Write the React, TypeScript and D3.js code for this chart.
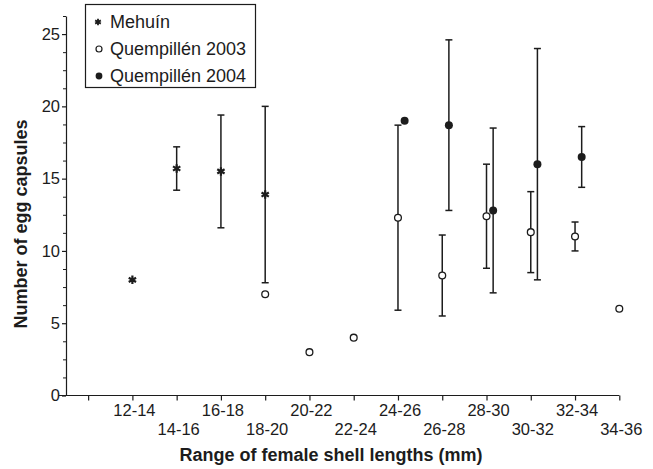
import React from 'react';
import * as d3 from 'd3';

// shell length classes (mm)
const categories = ["12-14", "14-16", "16-18", "18-20", "20-22", "22-24", "24-26", "26-28", "28-30", "30-32", "32-34", "34-36"];
const midpoints = [13, 15, 17, 19, 21, 23, 25, 27, 29, 31, 33, 35];

type V = number | null;
const mehuin: V[] = [8.0, 15.7, 15.5, 13.9, null, null, null, null, null, null, null, null];
const mehuinLow: V[] = [null, 14.2, 11.6, 7.8, null, null, null, null, null, null, null, null];
const mehuinHigh: V[] = [null, 17.2, 19.4, 20.0, null, null, null, null, null, null, null, null];

const q2003: V[] = [null, null, null, 7.0, 3.0, 4.0, 12.3, 8.3, 12.4, 11.3, 11.0, 6.0];
const q2003Low: V[] = [null, null, null, null, null, null, 5.9, 5.5, 8.8, 8.5, 10.0, null];
const q2003High: V[] = [null, null, null, null, null, null, 18.7, 11.1, 16.0, 14.1, 12.0, null];

const q2004: V[] = [null, null, null, null, null, null, 19.0, 18.7, 12.8, 16.0, 16.5, null];
const q2004Low: V[] = [null, null, null, null, null, null, null, 12.8, 7.1, 8.0, 14.4, null];
const q2004High: V[] = [null, null, null, null, null, null, null, 24.6, 18.5, 24.0, 18.6, null];

const yTicks = [0, 5, 10, 15, 20, 25];

const W = 653;
const H = 469;
const INK = "#1c1c1c";
const FONT = "'Liberation Sans', Arial, Helvetica, sans-serif";

const App: React.FC = () => {
  const svgRef = React.useRef<SVGSVGElement>(null);

  React.useEffect(() => {
    if (!svgRef.current) return;
    const svg = d3.select(svgRef.current);
    svg.selectAll("*").remove();

    const x = d3.scaleLinear().domain([10, 35]).range([66, 619.3]);
    const y = d3.scaleLinear().domain([0, 26.25]).range([395.5, 16]);

    // Y axis
    const yAxis = svg.append("g")
      .attr("transform", `translate(${x(10)},0)`)
      .call(d3.axisLeft(y).tickValues(yTicks).tickSize(4).tickSizeOuter(0).tickPadding(2));
    yAxis.select(".domain").attr("stroke", INK).attr("stroke-width", 1.2);
    yAxis.selectAll(".tick line").attr("stroke", INK).attr("stroke-width", 1.2);
    yAxis.selectAll("text")
      .style("font-family", FONT)
      .style("font-size", "16.5px")
      .attr("fill", INK);

    const minor = d3.range(0, 26.3, 1.25).filter(v => Math.abs(v % 5) > 0.01);
    svg.append("g")
      .attr("transform", `translate(${x(10)},0)`)
      .call(d3.axisLeft(y).tickValues(minor).tickSize(3).tickFormat(() => ""))
      .call(g => g.select(".domain").remove())
      .selectAll(".tick line").attr("stroke", INK).attr("stroke-width", 1);

    // X axis
    const xAxis = svg.append("g")
      .attr("transform", `translate(0,${y(0)})`)
      .call(d3.axisBottom(x).tickValues(d3.range(11, 36, 2)).tickSize(5).tickFormat(() => ""));
    xAxis.select(".domain").remove();
    xAxis.selectAll(".tick line").attr("stroke", INK).attr("stroke-width", 1.2);
    svg.append("line")
      .attr("x1", 59).attr("x2", x(35))
      .attr("y1", y(0)).attr("y2", y(0))
      .attr("stroke", INK).attr("stroke-width", 1.2);

    svg.append("g").selectAll("text")
      .data(categories)
      .join("text")
      .attr("x", (_, i) => x(midpoints[i]) + 2)
      .attr("y", (_, i) => (i % 2 === 0 ? 416 : 435))
      .attr("text-anchor", "middle")
      .style("font-family", FONT)
      .style("font-size", "16.5px")
      .attr("fill", INK)
      .text(d => d);

    // axis titles
    svg.append("text")
      .attr("x", 331)
      .attr("y", 461)
      .attr("text-anchor", "middle")
      .style("font-family", FONT)
      .style("font-size", "18px")
      .style("font-weight", "bold")
      .attr("fill", INK)
      .text("Range of female shell lengths (mm)");

    svg.append("text")
      .attr("transform", `translate(27,224) rotate(-90)`)
      .attr("text-anchor", "middle")
      .style("font-family", FONT)
      .style("font-size", "18px")
      .style("font-weight", "bold")
      .attr("fill", INK)
      .text("Number of egg capsules");

    const plot = svg.append("g");

    const errorBars = (mean: V[], low: V[], high: V[], off: number) => {
      mean.forEach((_, i) => {
        const lo = low[i], hi = high[i];
        if (lo == null || hi == null) return;
        const cx = x(midpoints[i] + off);
        plot.append("line")
          .attr("x1", cx).attr("x2", cx).attr("y1", y(lo)).attr("y2", y(hi))
          .attr("stroke", INK).attr("stroke-width", 1.5);
        [lo, hi].forEach(v => {
          plot.append("line")
            .attr("x1", cx - 3.5).attr("x2", cx + 3.5).attr("y1", y(v)).attr("y2", y(v))
            .attr("stroke", INK).attr("stroke-width", 1.5);
        });
      });
    };

    errorBars(mehuin, mehuinLow, mehuinHigh, 0);
    errorBars(q2003, q2003Low, q2003High, 0);
    errorBars(q2004, q2004Low, q2004High, 0.3);

    const star = d3.symbol().type(d3.symbolAsterisk).size(50);

    mehuin.forEach((v, i) => {
      if (v == null) return;
      plot.append("path")
        .attr("d", star()!)
        .attr("transform", `translate(${x(midpoints[i])},${y(v)})`)
        .attr("fill", "none").attr("stroke", INK).attr("stroke-width", 2.2);
    });
    q2003.forEach((v, i) => {
      if (v == null) return;
      plot.append("circle")
        .attr("cx", x(midpoints[i])).attr("cy", y(v)).attr("r", 3.4)
        .attr("fill", "#fff").attr("stroke", INK).attr("stroke-width", 1.3);
    });
    q2004.forEach((v, i) => {
      if (v == null) return;
      plot.append("circle")
        .attr("cx", x(midpoints[i] + 0.3)).attr("cy", y(v)).attr("r", 4)
        .attr("fill", INK);
    });

    // legend
    const legend = svg.append("g");
    legend.append("rect")
      .attr("x", 85.5).attr("y", 4.5).attr("width", 170).attr("height", 83)
      .attr("fill", "#fff").attr("stroke", INK).attr("stroke-width", 1.2);
    const items = ["Mehuín", "Quempillén 2003", "Quempillén 2004"];
    items.forEach((label, i) => {
      const ly = 28 + i * 27;
      const my = ly - 6;
      if (i === 0) {
        legend.append("path")
          .attr("d", d3.symbol().type(d3.symbolAsterisk).size(30)()!)
          .attr("transform", `translate(98,${my})`)
          .attr("fill", "none").attr("stroke", INK).attr("stroke-width", 1.8);
      } else if (i === 1) {
        legend.append("circle").attr("cx", 99).attr("cy", my).attr("r", 3)
          .attr("fill", "#fff").attr("stroke", INK).attr("stroke-width", 1.2);
      } else {
        legend.append("circle").attr("cx", 99).attr("cy", my).attr("r", 3.4)
          .attr("fill", INK);
      }
      legend.append("text")
        .attr("x", 110).attr("y", ly)
        .style("font-family", FONT)
        .style("font-size", "18px")
        .attr("fill", INK)
        .text(label);
    });
  }, []);

  return (
    <svg ref={svgRef} width={W} height={H} viewBox={`0 0 ${W} ${H}`}
      style={{ position: "absolute", left: 0, top: 0, background: "#fff" }} />
  );
};

export default App;
